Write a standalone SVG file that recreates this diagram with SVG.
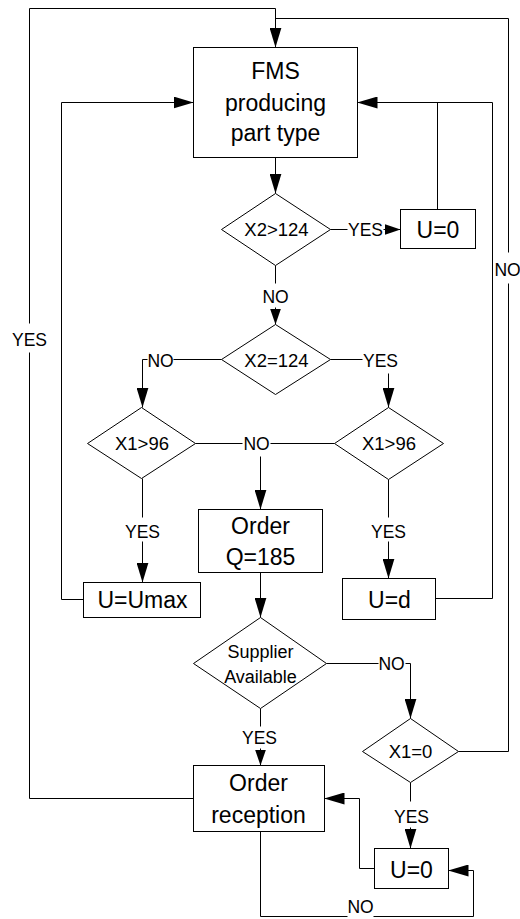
<svg xmlns="http://www.w3.org/2000/svg" width="520" height="919" viewBox="0 0 520 919">
<style>
.n{fill:#fff;stroke:#000;stroke-width:1}
.c{fill:none;stroke:#000;stroke-width:1}
text{font-family:"Liberation Sans",Arial,sans-serif;fill:#000;text-anchor:middle}
.b{font-size:23px}
.d{font-size:18.5px}
.l{font-size:17.5px}
</style>
<defs>
<marker id="a" markerUnits="userSpaceOnUse" markerWidth="20" markerHeight="12" refX="20" refY="6" orient="auto"><path d="M0,0 L20,6 L0,12 z" fill="#000"/></marker>
<marker id="s" markerUnits="userSpaceOnUse" markerWidth="16" markerHeight="11" refX="16" refY="5.5" orient="auto"><path d="M0,0 L16,5.5 L0,11 z" fill="#000"/></marker>
</defs>
<rect width="520" height="919" fill="#fff"/>
<g transform="translate(0.5,0.5)">
<g id="connectors">
<path class="c" d="M193,798 H29 V352"/>
<path class="c" d="M29,323 V8 H275 V47" marker-end="url(#a)"/>
<path class="c" d="M458,751 H508 V283"/>
<path class="c" d="M508,252 V18 H275"/>
<path class="c" d="M275,157 V193" marker-end="url(#a)"/>
<path class="c" d="M330,229 H347"/>
<path class="c" d="M383,229 H400" marker-end="url(#s)"/>
<path class="c" d="M437,209 V102"/>
<path class="c" d="M435,598 H492 V102 H357" marker-end="url(#a)"/>
<path class="c" d="M83,599 H61 V102 H193" marker-end="url(#a)"/>
<path class="c" d="M275,265 V283"/>
<path class="c" d="M275,307 V324" marker-end="url(#s)"/>
<path class="c" d="M221,359 H173"/>
<path class="c" d="M147,359 H142 V407" marker-end="url(#a)"/>
<path class="c" d="M330,359 H362"/>
<path class="c" d="M388,373 V407" marker-end="url(#a)"/>
<path class="c" d="M195,443 H242"/>
<path class="c" d="M270,443 H334"/>
<path class="c" d="M260,456 V509" marker-end="url(#a)"/>
<path class="c" d="M142,478 V517"/>
<path class="c" d="M142,541 V582" marker-end="url(#a)"/>
<path class="c" d="M388,479 V517"/>
<path class="c" d="M388,541 V578" marker-end="url(#a)"/>
<path class="c" d="M260,572 V617" marker-end="url(#a)"/>
<path class="c" d="M326,663 H378"/>
<path class="c" d="M405,663 H410 V718" marker-end="url(#a)"/>
<path class="c" d="M260,708 V726"/>
<path class="c" d="M260,748 V765" marker-end="url(#s)"/>
<path class="c" d="M410,782 V801"/>
<path class="c" d="M410,827 V848" marker-end="url(#a)"/>
<path class="c" d="M374,868 H359 V798 H324" marker-end="url(#a)"/>
<path class="c" d="M260,831 V916 H347"/>
<path class="c" d="M373,916 H473 V870 H448" marker-end="url(#a)"/>
<text class="l" x="29" y="345">YES</text>
<text class="l" x="507" y="275">NO</text>
<text class="l" x="365" y="235">YES</text>
<text class="l" x="275" y="302">NO</text>
<text class="l" x="160" y="366">NO</text>
<text class="l" x="380" y="366">YES</text>
<text class="l" x="256" y="449">NO</text>
<text class="l" x="142" y="537">YES</text>
<text class="l" x="388" y="537">YES</text>
<text class="l" x="391" y="669">NO</text>
<text class="l" x="259" y="743">YES</text>
<text class="l" x="411" y="822">YES</text>
<text class="l" x="360" y="912">NO</text>
</g>
<g id="fms"><rect class="n" x="193" y="47" width="164" height="110"/>
<text class="b" x="275" y="78">FMS</text><text class="b" x="275" y="110">producing</text><text class="b" x="275" y="140">part type</text></g>
<g id="x2gt"><polygon class="n" points="275,193 330,229 275,265 221,229"/><text class="d" x="276" y="235">X2&gt;124</text></g>
<g id="u0top"><rect class="n" x="400" y="209" width="75" height="39"/><text class="b" x="437.5" y="237">U=0</text></g>
<g id="x2eq"><polygon class="n" points="275,324 330,359 275,394 221,359"/><text class="d" x="276" y="366">X2=124</text></g>
<g id="x1left"><polygon class="n" points="141,407 195,443 141,478 87,443"/><text class="d" x="141.5" y="449">X1&gt;96</text></g>
<g id="x1right"><polygon class="n" points="388,407 443,443 388,479 334,443"/><text class="d" x="388.5" y="449">X1&gt;96</text></g>
<g id="order"><rect class="n" x="198" y="509" width="124" height="63"/><text class="b" x="260" y="533">Order</text><text class="b" x="260" y="564">Q=185</text></g>
<g id="umax"><rect class="n" x="83" y="582" width="117" height="35"/><text class="b" x="142" y="607">U=Umax</text></g>
<g id="ud"><rect class="n" x="342" y="578" width="93" height="41"/><text class="b" x="389" y="607">U=d</text></g>
<g id="supplier"><polygon class="n" points="260,617 326,663 260,708 193,663"/><text class="d" x="260" y="657" style="font-size:18px">Supplier</text><text class="d" x="260" y="682" style="font-size:18px">Available</text></g>
<g id="x1zero"><polygon class="n" points="410,718 458,751 410,782 362,751"/><text class="d" x="410" y="757">X1=0</text></g>
<g id="reception"><rect class="n" x="193" y="765" width="131" height="66"/><text class="b" x="258" y="790">Order</text><text class="b" x="258" y="822">reception</text></g>
<g id="u0bottom"><rect class="n" x="374" y="848" width="74" height="40"/><text class="b" x="411" y="877">U=0</text></g>
</g>
</svg>
